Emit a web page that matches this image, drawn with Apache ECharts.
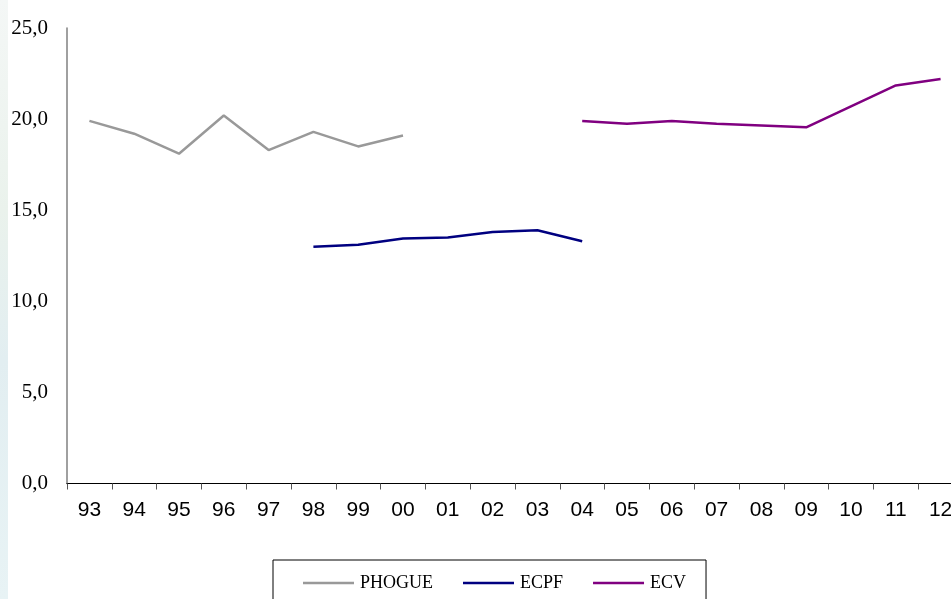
<!DOCTYPE html>
<html>
<head>
<meta charset="utf-8">
<script src="https://cdn.jsdelivr.net/npm/echarts@6/dist/echarts.min.js"></script>
<style>
  html, body { margin: 0; padding: 0; background: #ffffff; }
  #chart { width: 951px; height: 599px; }
</style>
</head>
<body>
<div id="chart"></div>
<script>
// Year labels along the horizontal axis
const years = ['93','94','95','96','97','98','99','00','01','02','03','04','05','06','07','08','09','10','11','12'];

// Series values per year (null where the survey does not cover the year)
const phogue = [19.9, 19.2, 18.1, 20.2, 18.3, 19.3, 18.5, 19.1, null, null, null, null, null, null, null, null, null, null, null, null];
const ecpf   = [null, null, null, null, null, 13.0, 13.1, 13.45, 13.5, 13.8, 13.9, 13.3, null, null, null, null, null, null, null, null];
const ecv    = [null, null, null, null, null, null, null, null, null, null, null, 19.9, 19.75, 19.9, 19.75, 19.65, 19.55, 20.7, 21.85, 22.2];

// Value axis ticks
const yTicks = [0, 5, 10, 15, 20, 25];

const chart = echarts.init(document.getElementById('chart'), null, { renderer: 'canvas' });

const lineIcon = 'path://M0,0 L51,0 L51,2.5 L0,2.5 Z';

function lineSeries(name, data, color) {
  return {
    name: name,
    type: 'line',
    data: data,
    symbol: 'none',
    connectNulls: false,
    lineStyle: { color: color, width: 2.5 },
    itemStyle: { color: color },
    emphasis: { disabled: true }
  };
}

chart.setOption({
  animation: false,
  backgroundColor: '#ffffff',
  graphic: [{
    type: 'rect',
    left: 0, top: 0, z: -10,
    shape: { width: 8, height: 599 },
    style: {
      fill: new echarts.graphic.LinearGradient(0, 0, 0, 1, [
        { offset: 0, color: '#f4f7f6' },
        { offset: 0.35, color: '#eaf2ec' },
        { offset: 0.6, color: '#e2eef1' },
        { offset: 1, color: '#e8f3f5' }
      ])
    }
  }],
  grid: {
    left: 67,
    top: 28,
    width: 896,
    bottom: 115.5,
    containLabel: false,
    outerBoundsMode: 'none'
  },
  legend: {
    left: 273,
    top: 560,
    padding: [14, 20, 14, 30],
    borderColor: '#000000',
    borderWidth: 1,
    itemGap: 30,
    itemWidth: 51,
    itemHeight: 2.5,
    icon: lineIcon,
    textStyle: { fontFamily: 'Liberation Serif', fontSize: 18, color: '#000000', padding: [0, 0, 0, 1] },
    data: ['PHOGUE', 'ECPF', 'ECV']
  },
  xAxis: {
    type: 'category',
    data: years,
    boundaryGap: true,
    axisLine: { show: true, lineStyle: { color: '#000000', width: 1.2 } },
    axisTick: { show: true, alignWithLabel: false, length: 6, lineStyle: { color: '#555555', width: 1 } },
    axisLabel: { fontFamily: 'Liberation Sans', fontSize: 21, color: '#000000', margin: 16 },
    splitLine: { show: false }
  },
  yAxis: {
    type: 'value',
    min: yTicks[0],
    max: yTicks[yTicks.length - 1],
    interval: 5,
    axisLine: { show: true, lineStyle: { color: '#808080', width: 1.5 } },
    axisTick: { show: false },
    splitLine: { show: false },
    axisLabel: {
      fontFamily: 'Liberation Serif',
      fontSize: 21,
      color: '#000000',
      margin: 19,
      formatter: v => v.toFixed(1).replace('.', ',')
    }
  },
  series: [
    lineSeries('PHOGUE', phogue, '#999999'),
    lineSeries('ECPF', ecpf, '#000080'),
    lineSeries('ECV', ecv, '#800080')
  ]
});
</script>
</body>
</html>
